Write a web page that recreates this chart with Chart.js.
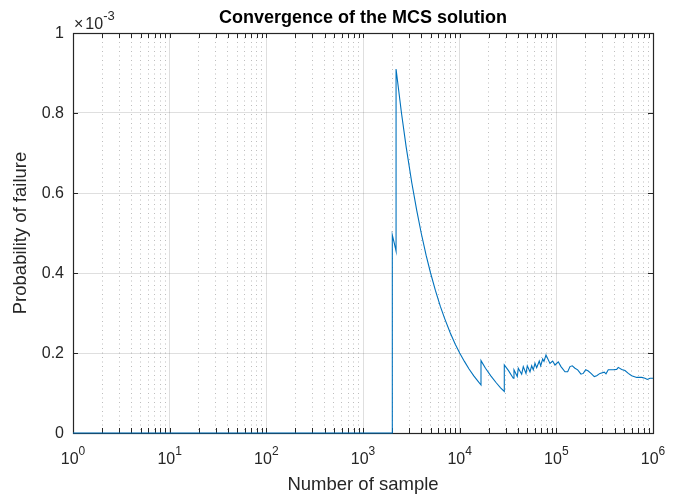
<!DOCTYPE html>
<html>
<head>
<meta charset="utf-8">
<title>Convergence of the MCS solution</title>
<script src="https://cdn.jsdelivr.net/npm/chart.js@4.4.1/dist/chart.umd.min.js"></script>
<style>
    html, body { margin: 0; padding: 0; background: #fff; }
    #wrap { width: 683px; height: 496px; }
</style>
</head>
<body>
<div id="wrap"><canvas id="mcsChart" width="683" height="496"></canvas></div>
<script>
// Number of samples and running failure probability
const sampleCounts = [
    1, 2009, 2010, 2100, 2198,
    2198, 2500, 2800, 3200, 3600, 4000, 4500, 5000, 5600, 6300, 7000, 8000, 9000,
    10000, 11200, 12500, 14000, 15300, 16620,
    16620, 18500, 21000, 24000, 26500, 28950,
    28950, 32000, 35860, 36470, 39460, 40410, 43810, 45510, 48530, 50060,
    53380, 55590, 57740, 60130, 62610, 66620, 68880, 72240, 74500, 78160,
    85970, 91680, 96830, 104760, 111700, 122890, 131080, 138460, 146220, 155900,
    166270, 179890, 190040, 201190, 214060, 228310, 246980, 261530, 282860, 313330,
    326270, 344640, 388110, 421000, 437400, 474250, 513130, 555050, 601750, 678000,
    763500, 826300, 872800, 930700, 1000000
];
const failProbs = [
    0, 0, 0.495e-3, 0.476e-3, 0.455e-3,
    0.910e-3, 0.800e-3, 0.714e-3, 0.625e-3, 0.556e-3, 0.500e-3, 0.444e-3, 0.400e-3, 0.357e-3, 0.317e-3, 0.286e-3, 0.250e-3, 0.222e-3,
    0.200e-3, 0.179e-3, 0.160e-3, 0.143e-3, 0.131e-3, 0.120e-3,
    0.181e-3, 0.162e-3, 0.143e-3, 0.125e-3, 0.113e-3, 0.104e-3,
    0.170e-3, 0.156e-3, 0.137e-3, 0.158e-3, 0.141e-3, 0.162e-3, 0.147e-3, 0.166e-3, 0.149e-3, 0.168e-3,
    0.153e-3, 0.168e-3, 0.158e-3, 0.174e-3, 0.163e-3, 0.180e-3, 0.168e-3, 0.185e-3, 0.179e-3, 0.195e-3,
    0.174e-3, 0.180e-3, 0.170e-3, 0.178e-3, 0.166e-3, 0.153e-3, 0.153e-3, 0.166e-3, 0.168e-3, 0.162e-3,
    0.158e-3, 0.147e-3, 0.149e-3, 0.158e-3, 0.155e-3, 0.149e-3, 0.141e-3, 0.143e-3, 0.149e-3, 0.152e-3,
    0.148e-3, 0.158e-3, 0.158e-3, 0.159e-3, 0.164e-3, 0.159e-3, 0.156e-3, 0.149e-3, 0.143e-3, 0.139e-3,
    0.139e-3, 0.137e-3, 0.134e-3, 0.137e-3, 0.137e-3
];

// axis ticks
const decadeTicks = [1, 10, 100, 1000, 10000, 100000, 1000000];
const decadeExponents = ['0', '1', '2', '3', '4', '5', '6'];
const minorSteps = [2, 3, 4, 5, 6, 7, 8, 9];
const yTickValues = [0, 0.2e-3, 0.4e-3, 0.6e-3, 0.8e-3, 1e-3];
const yTickLabels = ['0', '0.2', '0.4', '0.6', '0.8', '1'];

const FONT = "'Liberation Sans', Arial, Helvetica, sans-serif";
const AXIS_COLOR = '#262626';
const TICK_LEN = 5;
const TICK_FONT = 16;
const SUP_FONT = 12;

function isDecade(v) {
    return decadeTicks.some(d => Math.abs(d - v) < 1e-6 * d);
}

// x tick list: decades plus 2..9 in between
const xTickValues = [];
decadeTicks.forEach((d, i) => {
    xTickValues.push(d);
    if (i < decadeTicks.length - 1) {
        minorSteps.forEach(m => xTickValues.push(m * d));
    }
});

// MATLAB look: box, inward ticks, superscript labels
const matlabAxes = {
    id: 'matlabAxes',
    beforeDatasetsDraw(chart) {
        const {ctx, chartArea: a, scales: {x, y}} = chart;
        ctx.save();
        ctx.strokeStyle = AXIS_COLOR;
        ctx.lineWidth = 1;
        ctx.beginPath();
        xTickValues.forEach(v => {
            const px = Math.round(x.getPixelForValue(v)) + 0.5;
            ctx.moveTo(px, a.bottom);
            ctx.lineTo(px, a.bottom - TICK_LEN);
            ctx.moveTo(px, a.top);
            ctx.lineTo(px, a.top + TICK_LEN);
        });
        yTickValues.forEach(v => {
            const py = Math.round(y.getPixelForValue(v)) + 0.5;
            ctx.moveTo(a.left, py);
            ctx.lineTo(a.left + TICK_LEN, py);
            ctx.moveTo(a.right, py);
            ctx.lineTo(a.right - TICK_LEN, py);
        });
        ctx.stroke();
        ctx.lineWidth = 1.2;
        ctx.strokeRect(Math.round(a.left) + 0.5, Math.round(a.top) + 0.5,
            Math.round(a.right - a.left), Math.round(a.bottom - a.top));
        ctx.restore();
    },
    afterDraw(chart) {
        const {ctx, chartArea: a, scales: {x, y}} = chart;
        ctx.save();
        ctx.fillStyle = AXIS_COLOR;

        // y tick labels
        ctx.font = TICK_FONT + 'px ' + FONT;
        ctx.textAlign = 'right';
        ctx.textBaseline = 'middle';
        yTickValues.forEach((v, i) => {
            ctx.fillText(yTickLabels[i], a.left - 9, y.getPixelForValue(v) + 1);
        });

        // x tick labels 10^n
        ctx.textAlign = 'left';
        ctx.textBaseline = 'alphabetic';
        decadeTicks.forEach((d, i) => {
            ctx.font = TICK_FONT + 'px ' + FONT;
            const wBase = ctx.measureText('10').width;
            ctx.font = SUP_FONT + 'px ' + FONT;
            const wExp = ctx.measureText(decadeExponents[i]).width;
            const x0 = x.getPixelForValue(d) - (wBase + wExp) / 2;
            ctx.font = TICK_FONT + 'px ' + FONT;
            ctx.fillText('10', x0, a.bottom + 31);
            ctx.font = SUP_FONT + 'px ' + FONT;
            ctx.fillText(decadeExponents[i], x0 + wBase, a.bottom + 22);
        });

        // exponent label above the y axis
        ctx.font = TICK_FONT + 'px ' + FONT;
        ctx.fillText('\u00d7', a.left + 1, a.top - 4);
        const wTimes = ctx.measureText('\u00d7').width + 2;
        ctx.fillText('10', a.left + 1 + wTimes, a.top - 4);
        const wTen = ctx.measureText('10').width;
        ctx.font = (SUP_FONT + 1) + 'px ' + FONT;
        ctx.fillText('-3', a.left + 1 + wTimes + wTen, a.top - 13);

        // title
        ctx.fillStyle = '#000';
        ctx.textAlign = 'center';
        ctx.font = 'bold 18px ' + FONT;
        ctx.fillText('Convergence of the MCS solution', (a.left + a.right) / 2, a.top - 10);

        // axis titles
        ctx.fillStyle = AXIS_COLOR;
        ctx.font = '18.5px ' + FONT;
        ctx.fillText('Number of sample', (a.left + a.right) / 2, a.bottom + 57);
        ctx.translate(a.left - 47, (a.top + a.bottom) / 2);
        ctx.rotate(-Math.PI / 2);
        ctx.fillText('Probability of failure', 0, 0);
        ctx.restore();
    }
};

const ctx = document.getElementById('mcsChart').getContext('2d');
const mcsChart = new Chart(ctx, {
    type: 'line',
    data: {
        datasets: [{
            label: 'Pf',
            data: sampleCounts.map((n, i) => ({x: n, y: failProbs[i]})),
            borderColor: '#0072BD',
            borderWidth: 1.1,
            pointRadius: 0,
            fill: false,
            tension: 0,
            clip: 3
        }]
    },
    options: {
        responsive: false,
        animation: false,
        parsing: false,
        layout: {
            padding: {left: 73, top: 33, right: 30, bottom: 63}
        },
        plugins: {
            legend: {display: false},
            title: {display: false},
            tooltip: {enabled: false}
        },
        scales: {
            x: {
                type: 'logarithmic',
                min: 1,
                max: 1000000,
                afterBuildTicks: (scale) => {
                    scale.ticks = xTickValues.map(v => ({value: v}));
                },
                ticks: {display: false, autoSkip: false},
                grid: {
                    drawTicks: false,
                    color: (c) => (c.tick && isDecade(c.tick.value)) ? 'rgba(38,38,38,0.15)' : 'rgba(38,38,38,0.3)',
                    lineWidth: 1
                },
                border: {
                    display: false,
                    dash: (c) => (c.tick && !isDecade(c.tick.value)) ? [1, 3.5] : []
                }
            },
            y: {
                type: 'linear',
                min: 0,
                max: 1e-3,
                afterBuildTicks: (scale) => {
                    scale.ticks = yTickValues.map(v => ({value: v}));
                },
                ticks: {display: false},
                grid: {
                    drawTicks: false,
                    color: 'rgba(38,38,38,0.15)',
                    lineWidth: 1
                },
                border: {display: false}
            }
        }
    },
    plugins: [matlabAxes]
});
</script>
</body>
</html>
